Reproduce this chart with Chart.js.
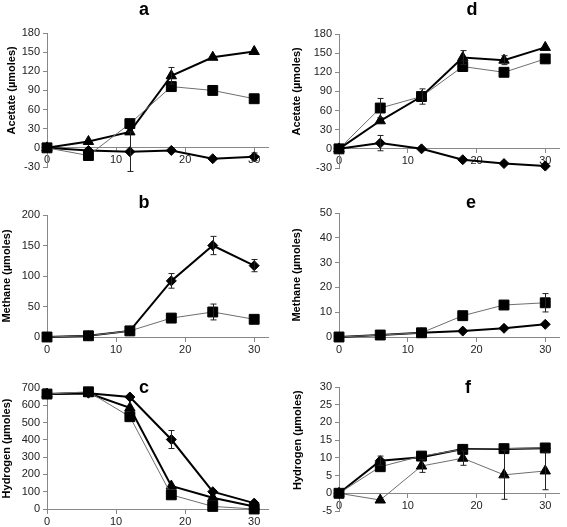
<!DOCTYPE html>
<html lang="en">
<head>
<meta charset="UTF-8">
<title>Acetate, methane and hydrogen</title>
<style>
  body { margin: 0; background: #fff; }
  #wrap { position: relative; width: 567px; height: 527px; }
  #wrap canvas { position: absolute; left: 0; top: 0; pointer-events: none; }
</style>
</head>
<body>
<div id="wrap">
  <canvas id="chartA" width="567" height="527"></canvas>
  <canvas id="chartB" width="567" height="527"></canvas>
  <canvas id="chartC" width="567" height="527"></canvas>
  <canvas id="chartD" width="567" height="527"></canvas>
  <canvas id="chartE" width="567" height="527"></canvas>
  <canvas id="chartF" width="567" height="527"></canvas>
</div>

<script src="https://cdn.jsdelivr.net/npm/chart.js"></script>
<script>
// sampling days (x axis) and tick labels
const days = [0, 6, 12, 18, 24, 30];
const xTicks = [0, 10, 20, 30];
const acetateTicks = [-30, 0, 30, 60, 90, 120, 150, 180];
const methaneTicksB = [0, 50, 100, 150, 200];
const methaneTicksE = [0, 10, 20, 30, 40, 50];
const hydrogenTicksC = [0, 100, 200, 300, 400, 500, 600, 700];
const hydrogenTicksF = [-5, 0, 5, 10, 15, 20, 25, 30];

// panel a - acetate
const aTri = [0, 10, 25, 113, 142, 151];
const aTriErr = [0, 0, 0, 13, 0, 0];
const aSq = [0, -12, 38, 96, 90, 77];
const aDia = [0, -4, -6, -4, -17, -14];
const aDiaErr = [0, 0, 31, 0, 0, 6];

// panel b - methane
const bDia = [0, 2, 10, 92, 150, 117];
const bDiaErr = [0, 0, 0, 12, 15, 10];
const bSq = [0, 2, 10, 31, 41, 29];
const bSqErr = [0, 0, 0, 0, 13, 0];

// panel c - hydrogen
const cDia = [665, 670, 648, 402, 100, 34];
const cDiaErr = [0, 0, 0, 52, 0, 0];
const cTri = [665, 670, 585, 133, 65, 15];
const cSq = [665, 678, 534, 82, 15, 0];

// panel d - acetate
const dTri = [0, 44, 82, 143, 139, 159];
const dTriErr = [0, 0, 0, 11, 7, 0];
const dSq = [0, 64, 82, 129, 120, 141];
const dSqErr = [0, 15, 12, 0, 0, 0];
const dDia = [0, 9, 0, -17, -23, -27];
const dDiaErr = [0, 12, 0, 0, 0, 0];

// panel e - methane
const eSq = [0, 0.8, 1.7, 8.6, 12.9, 13.8];
const eSqErr = [0, 0, 0, 0, 0, 3.7];
const eDia = [0, 0.8, 1.7, 2.4, 3.5, 5.1];

// panel f - hydrogen
const fDia = [0, 9.2, 10.2, 12.5, 12.5, 12.7];
const fDiaErr = [0, 1.3, 0, 0, 0, 0];
const fSq = [0, 7.5, 10.5, 12.4, 12.6, 12.8];
const fTri = [0, -1.9, 7.7, 9.9, 5.2, 6.3];
const fTriErr = [0, 0, 1.8, 2, 6.9, 5.3];

const fontFamily = 'Arial, "Liberation Sans", sans-serif';
const tickFont = { family: fontFamily, size: 11 };

// vertical error bars with small caps
const errorBars = {
  id: 'errorBars',
  afterDatasetsDraw(chart) {
    const ctx = chart.ctx;
    const xs = chart.scales.x, ys = chart.scales.y;
    ctx.save();
    ctx.strokeStyle = '#222';
    ctx.lineWidth = 1;
    chart.data.datasets.forEach(ds => {
      if (!ds.errors) return;
      ds.data.forEach((p, i) => {
        const e = ds.errors[i];
        if (!e) return;
        const px = Math.round(xs.getPixelForValue(p.x)) + 0.5;
        const top = ys.getPixelForValue(p.y + e);
        const bot = ys.getPixelForValue(p.y - e);
        ctx.beginPath();
        ctx.moveTo(px, top); ctx.lineTo(px, bot);
        ctx.moveTo(px - 3, top); ctx.lineTo(px + 3, top);
        ctx.moveTo(px - 3, bot); ctx.lineTo(px + 3, bot);
        ctx.stroke();
      });
    });
    ctx.restore();
  }
};

// panel letter and y axis title (centred on the positive part of the axis)
const panelText = {
  id: 'panelText',
  afterDraw(chart, args, opts) {
    if (!opts || !opts.letter) return;
    const ctx = chart.ctx;
    const ys = chart.scales.y;
    ctx.save();
    ctx.fillStyle = '#000';
    ctx.textAlign = 'center';
    ctx.font = 'bold 18px ' + fontFamily;
    ctx.textBaseline = 'alphabetic';
    ctx.fillText(opts.letter, opts.letterX, opts.letterY);
    const mid = (ys.getPixelForValue(ys.max) + ys.getPixelForValue(Math.max(ys.min, 0))) / 2;
    ctx.translate(opts.titleX, mid);
    ctx.rotate(-Math.PI / 2);
    ctx.font = 'bold 11px ' + fontFamily;
    ctx.textBaseline = 'middle';
    ctx.fillText(opts.title, 0, 0);
    ctx.restore();
  }
};

Chart.register(errorBars, panelText);

function series(vals, shape, thick, errs) {
  let r = 5;
  if (shape === 'rect') r = 7;
  if (shape === 'triangle') r = 6;
  return {
    data: days.map((d, i) => ({ x: d, y: vals[i] })),
    errors: errs,
    borderColor: thick ? '#000' : '#6e6e6e',
    borderWidth: thick ? 2 : 1,
    pointStyle: shape,
    pointRadius: r,
    pointBackgroundColor: '#000',
    pointBorderColor: '#000',
    pointBorderWidth: 1,
    clip: false,
    tension: 0
  };
}

function axisGrid() {
  return { drawOnChartArea: false, tickLength: 4, color: '#888' };
}

function xScale() {
  return {
    type: 'linear', min: 0, max: 32,
    position: { y: 0 },
    afterBuildTicks: s => { s.ticks = xTicks.map(v => ({ value: v })); },
    grid: axisGrid(),
    border: { color: '#888' },
    ticks: { font: tickFont, color: '#222', padding: 2, maxRotation: 0 }
  };
}

function yScale(ticks, width) {
  return {
    type: 'linear', min: ticks[0], max: ticks[ticks.length - 1],
    afterBuildTicks: s => { s.ticks = ticks.map(v => ({ value: v })); },
    afterFit: s => { s.width = width; },
    grid: axisGrid(),
    border: { color: '#888' },
    ticks: { font: tickFont, color: '#222', padding: 3 }
  };
}

function makeChart(id, datasets, yTicks, yWidth, pad, text) {
  return new Chart(document.getElementById(id), {
    type: 'line',
    data: { datasets: datasets },
    options: {
      responsive: false,
      animation: false,
      devicePixelRatio: 1,
      layout: { padding: pad },
      plugins: { legend: { display: false }, tooltip: { enabled: false }, panelText: text },
      scales: { x: xScale(), y: yScale(yTicks, yWidth) }
    }
  });
}

makeChart('chartA',
  [series(aSq, 'rect', false), series(aTri, 'triangle', true, aTriErr), series(aDia, 'rectRot', true, aDiaErr)],
  acetateTicks, 47, { left: 0, top: 33, right: 299, bottom: 360 },
  { letter: 'a', letterX: 144, letterY: 15, title: 'Acetate (µmoles)', titleX: 12 });

makeChart('chartB',
  [series(bSq, 'rect', false, bSqErr), series(bDia, 'rectRot', true, bDiaErr)],
  methaneTicksB, 47, { left: 0, top: 215, right: 299, bottom: 190 },
  { letter: 'b', letterX: 144, letterY: 208, title: 'Methane (µmoles)', titleX: 7 });

makeChart('chartC',
  [series(cSq, 'rect', false), series(cTri, 'triangle', true), series(cDia, 'rectRot', true, cDiaErr)],
  hydrogenTicksC, 47, { left: 0, top: 388, right: 299, bottom: 18 },
  { letter: 'c', letterX: 144, letterY: 393, title: 'Hydrogen (µmoles)', titleX: 7 });

makeChart('chartD',
  [series(dSq, 'rect', false, dSqErr), series(dTri, 'triangle', true, dTriErr), series(dDia, 'rectRot', true, dDiaErr)],
  acetateTicks, 52, { left: 287, top: 34, right: 6, bottom: 359 },
  { letter: 'd', letterX: 472, letterY: 15, title: 'Acetate (µmoles)', titleX: 297 });

makeChart('chartE',
  [series(eSq, 'rect', false, eSqErr), series(eDia, 'rectRot', true)],
  methaneTicksE, 52, { left: 287, top: 213, right: 3, bottom: 190 },
  { letter: 'e', letterX: 471, letterY: 208, title: 'Methane (µmoles)', titleX: 297 });

makeChart('chartF',
  [series(fSq, 'rect', false), series(fTri, 'triangle', false, fTriErr), series(fDia, 'rectRot', true, fDiaErr)],
  hydrogenTicksF, 52, { left: 287, top: 387, right: 1, bottom: 16 },
  { letter: 'f', letterX: 468, letterY: 393, title: 'Hydrogen (µmoles)', titleX: 298 });
</script>
</body>
</html>
